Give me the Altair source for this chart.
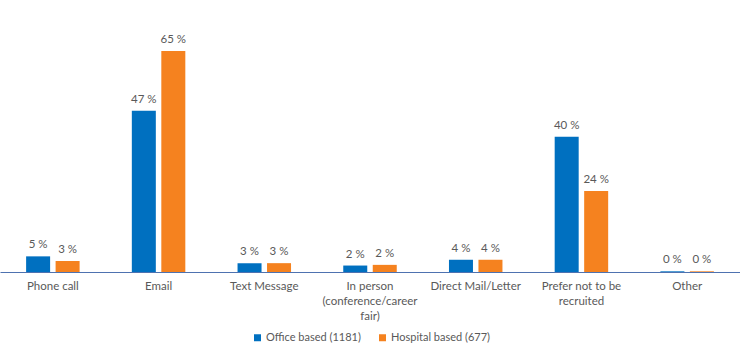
import altair as alt
import pandas as pd

categories = ["Phone call", "Email", "Text Message", "In person|(conference/career|fair)",
              "Direct Mail/Letter", "Prefer not to be|recruited", "Other"]
office = [4.6, 47.4, 2.6, 1.9, 3.6, 39.8, 0.2]
hospital = [3.2, 65.0, 2.6, 2.1, 3.6, 23.8, 0.2]
series = ["Office based (1181)", "Hospital based (677)"]
colors = ["#0070C0", "#F5821F"]

rows = []
for i, c in enumerate(categories):
    rows.append({"cat": c, "series": series[0], "value": office[i]})
    rows.append({"cat": c, "series": series[1], "value": hospital[i]})
df = pd.DataFrame(rows)

FONT = "Lato"
GREY = "#595959"

xenc = alt.X("cat:N", sort=categories,
             scale=alt.Scale(paddingInner=0.494, paddingOuter=0.247),
             axis=alt.Axis(title=None, labelAngle=0, labelExpr="split(datum.label, '|')",
                           labelFont=FONT, labelFontSize=11.5, labelColor=GREY,
                           labelLineHeight=15, labelPadding=8, ticks=False,
                           domainColor="#4E72B0", domainWidth=1.2, grid=False))
xoff = alt.XOffset("series:N", sort=series, scale=alt.Scale(paddingInner=0.186, paddingOuter=0))
yenc = alt.Y("value:Q", scale=alt.Scale(domain=[0, 65], nice=False), axis=None)

bars = alt.Chart(df).mark_bar().encode(
    x=xenc, xOffset=xoff, y=yenc,
    color=alt.Color("series:N", sort=series, scale=alt.Scale(domain=series, range=colors),
                    legend=alt.Legend(title=None, orient="none", legendX=252, legendY=281,
                                      direction="horizontal", columns=2, columnPadding=16,
                                      symbolType="square", symbolSize=49, symbolStrokeWidth=0,
                                      labelFont=FONT, labelFontSize=11, labelColor=GREY,
                                      labelOffset=3)),
)

labels = alt.Chart(df).transform_calculate(
    lbl="format(datum.value, '.0f') + ' %'"
).mark_text(baseline="bottom", dy=-6, font=FONT, fontSize=11.5, color=GREY).encode(
    x=alt.X("cat:N", sort=categories), xOffset=xoff, y=yenc, text="lbl:N"
)

chart = (bars + labels).properties(
    width=740, height=221,
    autosize=alt.AutoSizeParams(type="none"),
    padding={"left": 0, "top": 51, "right": 0, "bottom": 83},
).configure(background="white").configure_view(stroke=None, strokeWidth=0)

chart.save("out.html", embed_options={"renderer": "svg", "actions": False})
